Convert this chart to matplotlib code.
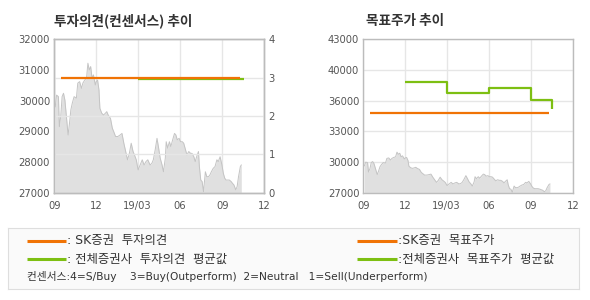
import matplotlib
matplotlib.use('Agg')
import matplotlib.pyplot as plt
import matplotlib.transforms as mtransforms
import pandas as pd

plt.rcParams['font.family'] = ['Noto Sans CJK KR', 'DejaVu Sans']
LATIN_FIRST = ['DejaVu Sans', 'Noto Sans CJK KR']

# 주가 (회색 영역)
price_dates = [
    '2018-09-03', '2018-09-06', '2018-09-10', '2018-09-12', '2018-09-15', '2018-09-18',
    '2018-09-21', '2018-09-24', '2018-09-28', '2018-10-01', '2018-10-04', '2018-10-07',
    '2018-10-10', '2018-10-14', '2018-10-19', '2018-10-22', '2018-10-26', '2018-10-30',
    '2018-11-02', '2018-11-06', '2018-11-10', '2018-11-13', '2018-11-16', '2018-11-19',
    '2018-11-22', '2018-11-25', '2018-11-29', '2018-12-01', '2018-12-04', '2018-12-07',
    '2018-12-09', '2018-12-13', '2018-12-17', '2018-12-21', '2018-12-24', '2018-12-27',
    '2019-01-01', '2019-01-05', '2019-01-08', '2019-01-12', '2019-01-17', '2019-01-22',
    '2019-01-26', '2019-01-30', '2019-02-03', '2019-02-07', '2019-02-11', '2019-02-15',
    '2019-02-19', '2019-02-22', '2019-02-26', '2019-03-02', '2019-03-05', '2019-03-08',
    '2019-03-11', '2019-03-15', '2019-03-19', '2019-03-23', '2019-03-28', '2019-04-01',
    '2019-04-04', '2019-04-08', '2019-04-12', '2019-04-15', '2019-04-19', '2019-04-23',
    '2019-04-26', '2019-04-30', '2019-05-02', '2019-05-05', '2019-05-09', '2019-05-12',
    '2019-05-16', '2019-05-20', '2019-05-23', '2019-05-26', '2019-05-30', '2019-06-02',
    '2019-06-06', '2019-06-09', '2019-06-13', '2019-06-16', '2019-06-20', '2019-06-24',
    '2019-06-27', '2019-07-01', '2019-07-04', '2019-07-07', '2019-07-11', '2019-07-13',
    '2019-07-16', '2019-07-19', '2019-07-22', '2019-07-26', '2019-07-29', '2019-08-02',
    '2019-08-05', '2019-08-08', '2019-08-12', '2019-08-16', '2019-08-20', '2019-08-23',
    '2019-08-27', '2019-08-31', '2019-09-03', '2019-09-06', '2019-09-09', '2019-09-13',
    '2019-09-16', '2019-09-20', '2019-09-23', '2019-09-26', '2019-09-30', '2019-10-03',
    '2019-10-06', '2019-10-10', '2019-10-12',
]
price_values = [
    29800, 30180, 30130, 29150, 29480, 30130,
    30240, 30020, 29370, 28880, 29260, 29700,
    29910, 30130, 30080, 30570, 30620, 30400,
    30570, 30670, 30730, 31220, 31000, 31110,
    30730, 30840, 30510, 30620, 30670, 30350,
    29750, 29590, 29530, 29590, 29640, 29530,
    29420, 29100, 28990, 28830, 28830, 28880,
    28930, 28610, 28340, 28070, 28280, 28610,
    28340, 28230, 28070, 27740, 27850, 27960,
    28070, 27900, 28010, 28070, 27900, 27960,
    28070, 28390, 28770, 28500, 28120, 27900,
    27680, 28120, 28660, 28450, 28660, 28500,
    28720, 28930, 28880, 28720, 28770, 28660,
    28660, 28610, 28390, 28230, 28340, 28280,
    28280, 28170, 28010, 28170, 28340, 27850,
    27410, 27360, 27030, 27680, 27520, 27520,
    27580, 27680, 27790, 27850, 28070, 28010,
    28170, 27900, 27630, 27470, 27410, 27410,
    27410, 27360, 27300, 27250, 27090, 27200,
    27520, 27850, 27900,
]

# 투자의견
sk_opinion_dates = ['2018-09-15', '2019-10-09']
sk_opinion = [3, 3]
avg_opinion_dates = ['2019-03-01', '2019-10-17']
avg_opinion = [3, 3]

# 목표주가
sk_target_dates = ['2018-09-15', '2019-10-09']
sk_target = [35300, 35300]
avg_target_dates = ['2018-12-01', '2019-03-01', '2019-06-01', '2019-09-01', '2019-10-17']
avg_target = [38580, 37430, 37960, 36630, 35700]

x_ticks = ['2018-09-01', '2018-12-01', '2019-03-01', '2019-06-01', '2019-09-01', '2019-12-01']
x_labels = ['09', '12', '19/03', '06', '09', '12']
left_y_ticks = [27000, 28000, 29000, 30000, 31000, 32000]
opinion_ticks = [0, 1, 2, 3, 4]
target_ticks = [27000, 30200, 33400, 36600, 39800, 43000]
target_labels = ['27000', '30000', '33000', '36000', '40000', '43000']

ORANGE = '#f07305'
GREEN = '#7dbf12'
SPINE = '#bcbcbc'
GRID = '#e6e6e6'
TICK = '#555555'

pdates = pd.to_datetime(price_dates)
xt = pd.to_datetime(x_ticks)

fig = plt.figure(figsize=(5.9, 3.0), dpi=100)
fig.patch.set_facecolor('white')


def style(ax):
    for s in ax.spines.values():
        s.set_color(SPINE)
        s.set_linewidth(1)
    ax.tick_params(length=0, labelsize=7.2, labelcolor=TICK, pad=3)
    ax.set_xlim(xt[0], xt[-1])
    ax.set_xticks(xt)
    ax.set_xticklabels(x_labels)
    ax.tick_params(axis='x', pad=6)
    for t in ax.get_xticklabels() + ax.get_yticklabels():
        t.set_family(LATIN_FIRST)


# ---- 투자의견 ----
ax1 = fig.add_axes([0.092, 0.358, 0.356, 0.511])
ax1.fill_between(pdates, price_values, 27000, color='#e0e0e0', lw=0, zorder=1)
ax1.plot(pdates, price_values, color='#c4c4c4', lw=0.7, zorder=2)
ax1.set_ylim(27000, 32000)
ax1.set_yticks(left_y_ticks)
style(ax1)
ax1.grid(axis='x', color=GRID, lw=1, zorder=0)
ax1.set_axisbelow(True)

ax1b = ax1.twinx()
ax1b.set_ylim(0, 4)
ax1b.set_yticks(opinion_ticks)
style(ax1b)
ax1b.grid(axis='y', color=GRID, lw=1)
ax1b.set_axisbelow(True)
shift = mtransforms.offset_copy(ax1b.transData, fig=fig, y=-1.2, units='dots')
ax1b.plot(pd.to_datetime(avg_opinion_dates), avg_opinion, color=GREEN, lw=1.6,
          transform=shift, solid_capstyle='butt')
ax1b.plot(pd.to_datetime(sk_opinion_dates), sk_opinion, color=ORANGE, lw=1.6,
          solid_capstyle='butt')

# ---- 목표주가 ----
ax2 = fig.add_axes([0.616, 0.358, 0.355, 0.511])
ax2.set_ylim(27000, 43000)
ax2.set_yticks(target_ticks)
ax2.set_yticklabels(target_labels)
style(ax2)
ax2.grid(color=GRID, lw=1, zorder=0)
ax2.set_axisbelow(True)
ax2.fill_between(pdates, price_values, 27000, color='#e0e0e0', lw=0, zorder=1)
ax2.plot(pdates, price_values, color='#c4c4c4', lw=0.7, zorder=2)
ax2.plot(pd.to_datetime(sk_target_dates), sk_target, color=ORANGE, lw=1.6,
         solid_capstyle='butt', zorder=3)
ax2.plot(pd.to_datetime(avg_target_dates), avg_target, color=GREEN, lw=1.6,
         drawstyle='steps-post', solid_capstyle='butt', zorder=3)

# 제목
fig.text(0.092, 0.93, '투자의견(컨센서스) 추이', fontsize=9.8, fontweight='bold',
         color='#333333', va='center', ha='left')
fig.text(0.621, 0.93, '목표주가 추이', fontsize=9.8, fontweight='bold',
         color='#333333', va='center', ha='left')

# ---- 범례 상자 ----
lg = fig.add_axes([8 / 590, 1 - 289 / 300, 571 / 590, 61 / 300])
lg.set_xlim(0, 571)
lg.set_ylim(61, 0)
lg.set_xticks([])
lg.set_yticks([])
lg.set_facecolor('#fafafa')
for s in lg.spines.values():
    s.set_color('#dedede')

legend_rows = [
    (19, 58, 12.7, ORANGE, ': SK증권  투자의견'),
    (19, 58, 31, GREEN, ': 전체증권사  투자의견  평균값'),
    (349, 389, 12.7, ORANGE, ':SK증권  목표주가'),
    (349, 389, 31, GREEN, ':전체증권사  목표주가  평균값'),
]
for x0, x1, y, c, label in legend_rows:
    lg.plot([x0, x1], [y, y], color=c, lw=2.2, solid_capstyle='butt')
    lg.text(x1 + 1, y, label, fontsize=8.9, color='#333333', va='center', ha='left',
            family=LATIN_FIRST)

lg.text(19, 48.7, '컨센서스:4=S/Buy    3=Buy(Outperform)  2=Neutral   1=Sell(Underperform)',
        fontsize=7.7, color='#333333', va='center', ha='left', family=LATIN_FIRST)

fig.savefig('out.png', dpi=100)
